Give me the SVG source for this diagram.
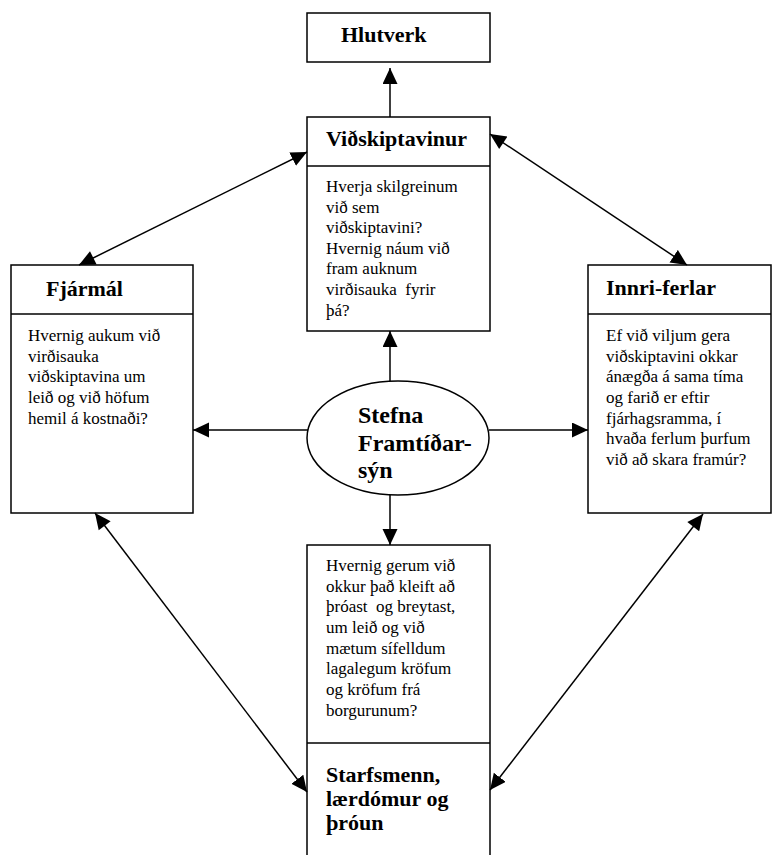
<svg xmlns="http://www.w3.org/2000/svg" width="774" height="855" viewBox="0 0 774 855">
<style>
.box{fill:#fff;stroke:#000;stroke-width:1.5}
.ln{stroke:#000;stroke-width:1.5;fill:none}
.t{font-family:"Liberation Serif","Times New Roman",serif;font-weight:bold;font-size:22px;fill:#000}
.e{font-family:"Liberation Serif","Times New Roman",serif;font-weight:bold;font-size:24px;fill:#000}
.b{font-family:"Liberation Serif","Times New Roman",serif;font-size:17px;fill:#000}
.c{stroke:#000;stroke-width:1.5;fill:none;marker-end:url(#ah)}
.d{stroke:#000;stroke-width:1.5;fill:none;marker-start:url(#ahs);marker-end:url(#ah)}
</style>
<defs>
<marker id="ah" markerUnits="userSpaceOnUse" markerWidth="18" markerHeight="16" refX="16" refY="7.5" orient="auto"><path d="M0,0 L16,7.5 L0,15 Z" fill="#000"/></marker>
<marker id="ahs" markerUnits="userSpaceOnUse" markerWidth="18" markerHeight="16" refX="0" refY="7.5" orient="auto"><path d="M16,0 L0,7.5 L16,15 Z" fill="#000"/></marker>
</defs>
<g id="hlutverk">
<rect class="box" x="307" y="13" width="183" height="49"/>
<text class="t" x="341" y="42">Hlutverk</text>
</g>
<g id="vidskiptavinur">
<rect class="box" x="307" y="117" width="183" height="214"/>
<line class="ln" x1="307" y1="166" x2="490" y2="166"/>
<text class="t" x="326" y="146">Viðskiptavinur</text>
<text class="b" x="326" y="192">Hverja skilgreinum</text>
<text class="b" x="326" y="213">við sem</text>
<text class="b" x="326" y="233">viðskiptavini?</text>
<text class="b" x="326" y="254">Hvernig náum við</text>
<text class="b" x="326" y="274">fram auknum</text>
<text class="b" x="326" y="295" xml:space="preserve">virðisauka  fyrir</text>
<text class="b" x="326" y="316">þá?</text>
</g>
<g id="fjarmal">
<rect class="box" x="11" y="265" width="182" height="248"/>
<line class="ln" x1="11" y1="314" x2="193" y2="314"/>
<text class="t" x="46" y="296">Fjármál</text>
<text class="b" x="28" y="341">Hvernig aukum við</text>
<text class="b" x="28" y="362">virðisauka</text>
<text class="b" x="28" y="382">viðskiptavina um</text>
<text class="b" x="28" y="403">leið og við höfum</text>
<text class="b" x="28" y="424">hemil á kostnaði?</text>
</g>
<g id="innri-ferlar">
<rect class="box" x="588" y="265" width="183" height="248"/>
<line class="ln" x1="588" y1="314" x2="771" y2="314"/>
<text class="t" x="606" y="295">Innri-ferlar</text>
<text class="b" x="606" y="341">Ef við viljum gera</text>
<text class="b" x="606" y="362">viðskiptavini okkar</text>
<text class="b" x="606" y="382">ánægða á sama tíma</text>
<text class="b" x="606" y="403">og farið er eftir</text>
<text class="b" x="606" y="424">fjárhagsramma, í</text>
<text class="b" x="606" y="444">hvaða ferlum þurfum</text>
<text class="b" x="606" y="465">við að skara framúr?</text>
</g>
<g id="stefna">
<ellipse class="box" cx="398" cy="438" rx="91" ry="57"/>
<text class="e" x="358" y="423">Stefna</text>
<text class="e" x="358" y="451">Framtíðar-</text>
<text class="e" x="358" y="478">sýn</text>
</g>
<g id="starfsmenn">
<rect class="box" x="307" y="545" width="183" height="320"/>
<line class="ln" x1="307" y1="743" x2="490" y2="743"/>
<text class="b" x="326" y="571">Hvernig gerum við</text>
<text class="b" x="326" y="592">okkur það kleift að</text>
<text class="b" x="326" y="612" xml:space="preserve">þróast  og breytast,</text>
<text class="b" x="326" y="633">um leið og við</text>
<text class="b" x="326" y="654">mætum sífelldum</text>
<text class="b" x="326" y="674">lagalegum kröfum</text>
<text class="b" x="326" y="695">og kröfum frá</text>
<text class="b" x="326" y="716">borgurunum?</text>
<text class="t" x="326" y="782">Starfsmenn,</text>
<text class="t" x="326" y="806">lærdómur og</text>
<text class="t" x="326" y="830">þróun</text>
</g>
<g id="connectors">
<line class="c" x1="390" y1="117" x2="390" y2="68"/>
<line class="c" x1="390" y1="381" x2="390" y2="331"/>
<line class="c" x1="390" y1="495" x2="390" y2="545"/>
<line class="c" x1="308" y1="430" x2="193" y2="430"/>
<line class="c" x1="489" y1="430" x2="588" y2="430"/>
<line class="d" x1="79" y1="265" x2="307" y2="152"/>
<line class="d" x1="490" y1="134" x2="687" y2="265"/>
<line class="d" x1="95" y1="513" x2="307" y2="792"/>
<line class="d" x1="703" y1="514" x2="490" y2="790"/>
</g>
</svg>
